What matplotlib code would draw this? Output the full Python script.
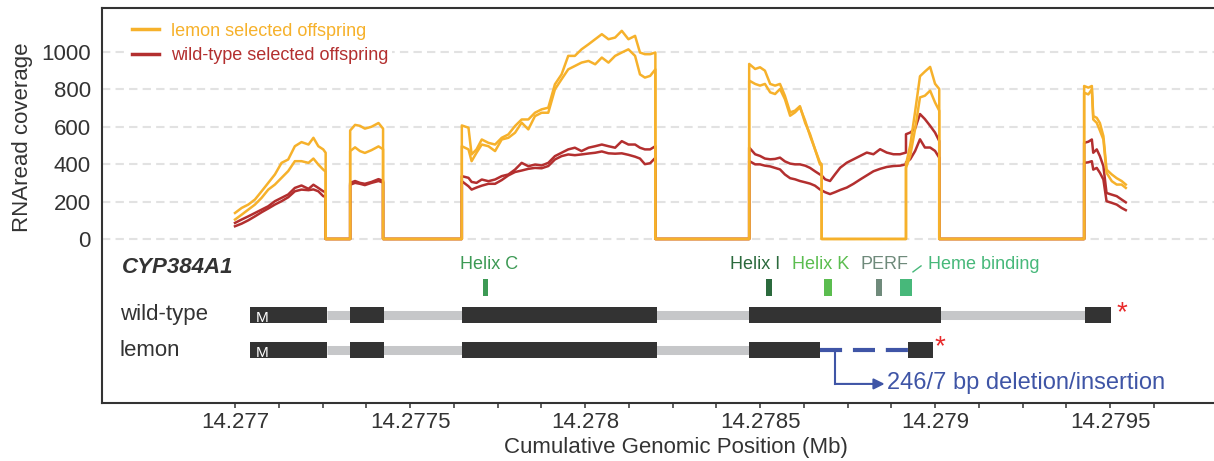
import matplotlib
matplotlib.use("Agg")
import matplotlib.pyplot as plt
from matplotlib.lines import Line2D
import numpy as np

plt.rcParams['font.family'] = ['Liberation Sans', 'DejaVu Sans']

# positions in bp after 14,277,000 (shared by all four coverage tracks)
pos_bp = [
    0, 19, 38, 57, 76, 95, 114, 133, 152, 171, 190, 210, 224, 238, 252, 259,   # exon 1
    259, 329,                                                                  # intron
    329, 343, 357, 371, 390, 410, 423,                                         # exon 2
    423, 648,
    648, 667, 676, 690, 705, 724, 743, 762, 781, 800, 819, 838, 857, 876, 895, 914,
    933, 952, 971, 990, 1010, 1029, 1048, 1067, 1086, 1105, 1124, 1143, 1157, 1171,
    1186, 1201,                                                                # exon 3
    1201, 1469,
    1469, 1486, 1500, 1514, 1529, 1543, 1557, 1571, 1586, 1600, 1614, 1629, 1643, 1657,
    1671, 1676, 1676, 1686, 1700, 1714, 1729, 1748, 1767, 1786, 1805, 1824, 1843, 1862,
    1881, 1900, 1917, 1917, 1929, 1943, 1957, 1971, 1986, 2000, 2012,          # exon 4
    2012, 2426,
    2426, 2438, 2448, 2452, 2462, 2471, 2481, 2490, 2505, 2519, 2533, 2545,    # exon 5
]

lemon_rep1 = [
    139, 166, 184, 211, 255, 300, 345, 407, 425, 496, 518, 505, 541, 496, 479, 461,
    0, 0,
    580, 610, 605, 590, 600, 620, 590,
    0, 0,
    607, 595, 452, 479, 532, 514, 505, 541, 559, 604, 639, 639, 675, 693, 702, 827,
    880, 979, 979, 1014, 1041, 1068, 1095, 1068, 1077, 1113, 1068, 1086, 997, 988,
    988, 997,
    0, 0,
    936, 909, 918, 900, 829, 820, 829, 766, 677, 686, 710, 620, 560, 480,
    400, 390, 0, 0, 0, 0, 0, 0, 0, 0, 0, 0, 0, 0,
    0, 0, 0, 400, 500, 680, 870, 895, 920, 830, 802,
    0, 0,
    818, 809, 818, 657, 648, 620, 550, 371, 345, 325, 310, 291,
]

lemon_rep2 = [
    104, 130, 157, 184, 220, 264, 291, 327, 363, 416, 416, 407, 430, 398, 371, 360,
    0, 0,
    470, 490, 470, 460, 475, 495, 480,
    0, 0,
    496, 479, 416, 461, 505, 496, 470, 532, 541, 568, 622, 586, 657, 675, 675, 800,
    854, 907, 925, 943, 952, 934, 970, 943, 979, 997, 1014, 979, 880, 863,
    872, 907,
    0, 0,
    847, 829, 820, 829, 784, 775, 802, 748, 659, 677, 704, 632, 551, 480,
    410, 400, 0, 0, 0, 0, 0, 0, 0, 0, 0, 0, 0, 0,
    0, 0, 0, 380, 444, 587, 757, 766, 793, 730, 686,
    0, 0,
    782, 773, 800, 639, 621, 580, 532, 354, 309, 291, 291, 273,
]

wt_rep1 = [
    86, 104, 121, 139, 157, 175, 202, 220, 238, 273, 286, 268, 290, 273, 255, 250,
    0, 0,
    300, 310, 300, 295, 305, 320, 310,
    0, 0,
    336, 327, 305, 300, 318, 309, 318, 336, 345, 371, 407, 389, 398, 393, 407, 443,
    461, 479, 488, 470, 488, 496, 505, 496, 488, 523, 505, 505, 488, 479,
    479, 496,
    0, 0,
    489, 453, 444, 430, 426, 428, 435, 415, 403, 399, 399, 392, 380, 362,
    345, 340, 340, 319, 310, 345, 381, 408, 426, 444, 462, 453, 480, 462,
    453, 453, 462, 560, 569, 590, 668, 641, 605, 569, 524,
    0, 0,
    514, 520, 532, 461, 479, 443, 389, 246, 237, 229, 211, 196,
]

wt_rep2 = [
    68, 82, 100, 121, 143, 163, 184, 202, 223, 255, 264, 261, 265, 255, 229, 225,
    0, 0,
    290, 300, 295, 288, 300, 310, 302,
    0, 0,
    309, 282, 264, 275, 285, 295, 295, 315, 340, 358, 366, 375, 380, 378, 390, 425,
    443, 452, 448, 452, 457, 461, 468, 458, 456, 458, 450, 440, 430, 400,
    405, 434,
    0, 0,
    417, 399, 399, 392, 388, 380, 372, 345, 325, 319, 310, 303, 296, 285,
    265, 260, 260, 250, 240, 250, 262, 275, 295, 318, 340, 362, 375, 385,
    390, 392, 399, 410, 426, 470, 533, 489, 489, 471, 435,
    0, 0,
    407, 410, 416, 371, 380, 354, 318, 202, 193, 184, 166, 154,
]

for s in (lemon_rep1, lemon_rep2, wt_rep1, wt_rep2):
    assert len(s) == len(pos_bp), (len(s), len(pos_bp))

# gene model (bp after 14,277,000)
wt_exons = [(43, 263), (329, 426), (649, 1206), (1469, 2017), (2429, 2503)]
lemon_exons = [(43, 263), (329, 426), (649, 1206), (1469, 1671), (1923, 1994)]
deletion = (1671, 1923)
domain_names = ["Helix C", "Helix I", "Helix K", "PERF", "Heme binding"]
domain_start = [709, 1517, 1683, 1831, 1900]
domain_end = [723, 1534, 1706, 1849, 1934]
domain_label_bp = [726, 1486, 1674, 1857, 1980]
domain_colors = ["#3d9a55", "#2b6a3d", "#5bbd4f", "#6f8a7b", "#47b87a"]

tick_values = [14.277, 14.2775, 14.278, 14.2785, 14.279, 14.2795]
tick_labels = ["14.277", "14.2775", "14.278", "14.2785", "14.279", "14.2795"]

LEMON = "#f6b12b"
WT = "#b32f2f"
DARK = "#333333"
BLUE = "#3f55a6"


def mb(bp):
    return 14.277 + np.asarray(bp, dtype=float) / 1e6


fig = plt.figure(figsize=(12.14, 4.61), dpi=100)
ax = fig.add_axes([102 / 1214, 58 / 461, 1112 / 1214, 395 / 461])

x = mb(pos_bp)
ax.plot(x, wt_rep1, color=WT, lw=1.8, zorder=3)
ax.plot(x, wt_rep2, color=WT, lw=1.8, zorder=3)
ax.plot(x, lemon_rep1, color=LEMON, lw=1.8, zorder=4)
ax.plot(x, lemon_rep2, color=LEMON, lw=1.8, zorder=4)

# gene model tracks
y_wt, y_lem, y_dom = -406, -596, -259
box_h, intron_h, dom_h = 86, 46, 90

ax.plot(mb([wt_exons[0][1], wt_exons[-1][0]]), [y_wt, y_wt], color="#c6c7c9",
        lw=6.5, solid_capstyle="butt", zorder=2)
ax.plot(mb([lemon_exons[0][1], lemon_exons[3][0]]), [y_lem, y_lem], color="#c6c7c9",
        lw=6.5, solid_capstyle="butt", zorder=2)
ax.broken_barh([(mb(a), (b - a) / 1e6) for a, b in wt_exons], (y_wt - box_h / 2, box_h),
               facecolor=DARK, zorder=3)
ax.broken_barh([(mb(a), (b - a) / 1e6) for a, b in lemon_exons], (y_lem - box_h / 2, box_h),
               facecolor=DARK, zorder=3)
ax.plot(mb(deletion), [y_lem, y_lem], color=BLUE, lw=3, linestyle=(0, (5.3, 2.6)), zorder=3)

for yy in (y_wt, y_lem):
    ax.text(mb(60), yy - 15, "M", color="white", fontsize=11, ha="left", va="center", zorder=5)
ax.text(mb(2533), y_wt + 10, "*", color="#e8292a", fontsize=20, ha="center", va="center")
ax.text(mb(2015), y_lem + 20, "*", color="#e8292a", fontsize=20, ha="center", va="center")

for name, a, b, lx, c in zip(domain_names, domain_start, domain_end, domain_label_bp, domain_colors):
    ax.broken_barh([(mb(a), (b - a) / 1e6)], (y_dom - dom_h / 2, dom_h), facecolor=c, zorder=3)
    ha = "left" if name == "Heme binding" else "center"
    ax.text(mb(lx), -134, name, color=c, fontsize=13, ha=ha, va="center")
ax.plot(mb([1937, 1960]), [-176, -144], color=domain_colors[-1], lw=1)

ax.text(mb(-323), -155, "CYP384A1", fontsize=16, fontweight="bold", fontstyle="italic",
        color=DARK, ha="left", va="center")
ax.text(mb(-329), y_wt, "wild-type", fontsize=16, color=DARK, ha="left", va="center")
ax.text(mb(-329), y_lem, "lemon", fontsize=16, color=DARK, ha="left", va="center")

# deletion/insertion callout
ax.plot(mb([1714, 1714]), [y_lem, -775], color=BLUE, lw=1.5)
ax.annotate("", xy=(mb(1856), -775), xytext=(mb(1714), -775),
            arrowprops=dict(arrowstyle="-|>", color=BLUE, lw=1.5, mutation_scale=16,
                            shrinkA=0, shrinkB=0))
ax.text(mb(1863), -772, "246/7 bp deletion/insertion", color=BLUE, fontsize=17,
        ha="left", va="center")

# axes
ax.set_xlim(mb(-380), mb(2797))
ax.set_ylim(-877, 1235)
ax.set_xticks(tick_values)
ax.set_xticklabels(tick_labels)
ax.set_xticks(np.arange(14.277, 14.27963, 0.000125), minor=True)
ax.set_yticks([0, 200, 400, 600, 800, 1000])
ax.tick_params(axis="x", which="both", length=3.6, width=1.1, color=DARK,
               labelsize=16, labelcolor=DARK, pad=3)
ax.tick_params(axis="y", length=0, labelsize=16, labelcolor=DARK, pad=8)
ax.grid(axis="y", color="#e2e2e2", lw=1.5, linestyle=(0, (4, 2.5)))
ax.set_axisbelow(True)
for side in ("top", "left", "bottom"):
    ax.spines[side].set_color(DARK)
    ax.spines[side].set_linewidth(1.5)
ax.spines["right"].set_visible(False)

ax.set_ylabel("RNAread coverage", fontsize=16, color=DARK)
ax.yaxis.set_label_coords(-0.062, 0.673)
ax.set_xlabel("Cumulative Genomic Position (Mb)", fontsize=16, color=DARK)
ax.xaxis.set_label_coords(0.516, -0.086)

handles = [Line2D([], [], color=LEMON, lw=2.5), Line2D([], [], color=WT, lw=2.5)]
leg = ax.legend(handles, ["lemon selected offspring", "wild-type selected offspring"],
                loc="upper left", bbox_to_anchor=(0.024, 0.972), fontsize=13,
                handlelength=1.5, handletextpad=0.67, labelspacing=0.42,
                borderpad=0.2, borderaxespad=0, frameon=True, facecolor="white",
                edgecolor="none", framealpha=1, labelcolor="linecolor")
leg.set_zorder(6)

fig.savefig("out.png", dpi=100)
